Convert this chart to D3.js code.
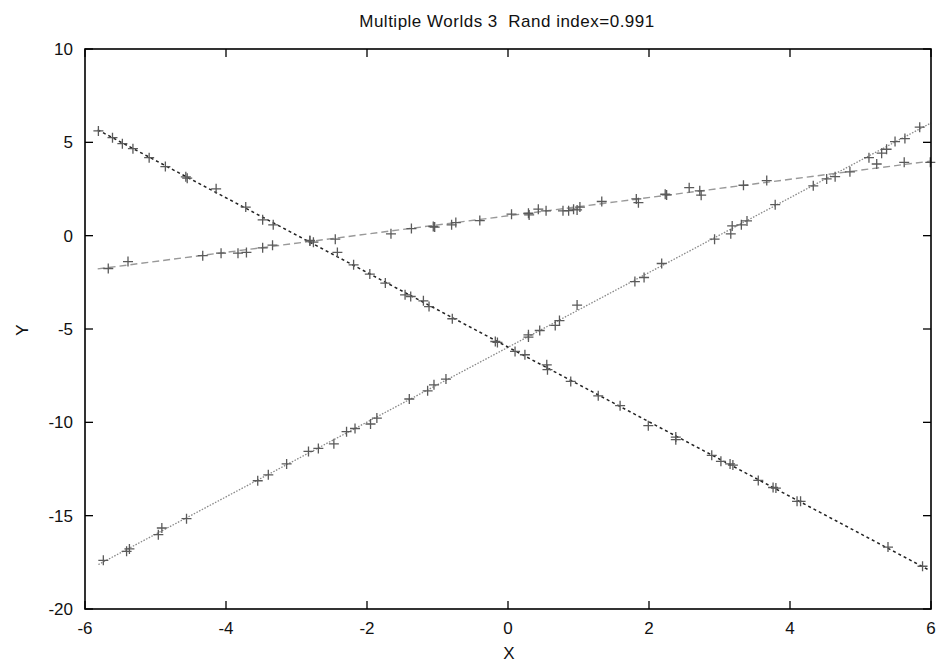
<!DOCTYPE html>
<html>
<head>
<meta charset="utf-8">
<script src="https://cdn.jsdelivr.net/npm/d3@7"></script>
<style>
  html, body { margin: 0; padding: 0; background: #fff; }
  svg text { font-family: "Liberation Sans", Arial, sans-serif; fill: #111; white-space: pre; }
</style>
</head>
<body>
<svg id="chart" width="940" height="664"></svg>
<script>
// Cluster A (falling line)
const worldA = [
  [-5.81,5.61],[-5.61,5.25],[-5.47,4.93],[-5.32,4.66],[-5.09,4.18],[-4.86,3.70],
  [-4.57,3.15],[-4.55,3.08],[-4.14,2.51],[-3.72,1.53],[-3.48,0.85],[-3.33,0.58],
  [-2.81,-0.26],[-2.76,-0.35],[-2.42,-0.90],[-2.19,-1.56],[-1.96,-2.06],[-1.74,-2.54],
  [-1.46,-3.17],[-1.38,-3.26],[-1.20,-3.49],[-1.12,-3.80],[-0.79,-4.45],[-0.18,-5.67],
  [-0.15,-5.72],[0.10,-6.20],[0.24,-6.38],[0.55,-6.92],[0.56,-7.18],[0.89,-7.81],
  [1.28,-8.58],[1.59,-9.11],[1.99,-10.18],[2.38,-10.79],[2.38,-10.93],[2.89,-11.77],
  [3.02,-12.09],[3.15,-12.23],[3.19,-12.29],[3.55,-13.11],[3.76,-13.49],[3.80,-13.52],
  [4.10,-14.23],[4.15,-14.23],[5.39,-16.68],[5.88,-17.71]
];
// Cluster B (rising steep line)
const worldB = [
  [-5.74,-17.39],[-5.41,-16.91],[-5.37,-16.78],[-4.96,-16.02],[-4.91,-15.66],[-4.56,-15.16],
  [-3.55,-13.13],[-3.40,-12.81],[-3.14,-12.23],[-2.83,-11.56],[-2.69,-11.40],[-2.47,-11.15],
  [-2.29,-10.50],[-2.17,-10.33],[-1.95,-10.09],[-1.86,-9.77],[-1.40,-8.75],[-1.14,-8.31],
  [-1.05,-7.99],[-0.88,-7.68],[0.29,-5.31],[0.29,-5.43],[0.45,-5.08],[0.67,-4.81],
  [0.73,-4.55],[0.98,-3.72],[1.80,-2.46],[1.93,-2.24],[2.18,-1.49],[2.93,-0.19],
  [3.16,0.10],[3.18,0.52],[3.31,0.58],[3.39,0.79],[3.79,1.66],[4.33,2.67],
  [4.52,3.04],[4.64,3.16],[5.12,4.18],[5.30,4.42],[5.37,4.63],[5.49,5.04],
  [5.63,5.20],[5.84,5.81]
];
// Cluster C (shallow line)
const worldC = [
  [-5.67,-1.76],[-5.39,-1.39],[-4.33,-1.07],[-4.07,-0.94],[-3.83,-0.94],[-3.71,-0.90],
  [-3.48,-0.65],[-3.34,-0.51],[-2.81,-0.28],[-2.45,-0.19],[-1.66,0.10],[-1.37,0.38],
  [-1.06,0.49],[-1.04,0.46],[-0.80,0.58],[-0.74,0.70],[-0.40,0.81],[0.05,1.15],
  [0.29,1.20],[0.30,1.11],[0.43,1.42],[0.54,1.33],[0.78,1.33],[0.86,1.34],
  [0.93,1.42],[0.98,1.38],[1.02,1.53],[1.33,1.83],[1.82,1.97],[1.85,1.77],
  [2.23,2.22],[2.25,2.18],[2.57,2.57],[2.72,2.40],[2.74,2.17],[3.34,2.70],
  [3.67,2.95],[4.85,3.42],[5.23,3.84],[5.62,3.93],[5.99,3.93]
];
// Fitted model lines: [slope, intercept, xStart, xEnd]
const modelA = [-2.00, -5.97, -5.82, 5.96];
const modelB = [2.003, -5.98, -5.81, 6.0];
const modelC = [0.489, 1.064, -5.82, 6.0];

const xTicks = [-6, -4, -2, 0, 2, 4, 6];
const yTicks = [-20, -15, -10, -5, 0, 5, 10];
const titleText = "Multiple Worlds 3  Rand index=0.991";

const svg = d3.select("#chart");
const plotL = 85, plotR = 931, plotT = 49, plotB = 609;

const x = d3.scaleLinear().domain([-6, 6]).range([plotL, plotR]);
const y = d3.scaleLinear().domain([-20, 10]).range([plotB, plotT]);

const tickLen = 8;

// Inward ticks on all four sides
const g = svg.append("g");
xTicks.forEach(t => {
  g.append("line").attr("x1", x(t)).attr("x2", x(t)).attr("y1", plotB).attr("y2", plotB - tickLen)
    .attr("stroke", "#000").attr("stroke-width", 1.3);
  g.append("line").attr("x1", x(t)).attr("x2", x(t)).attr("y1", plotT).attr("y2", plotT + tickLen)
    .attr("stroke", "#000").attr("stroke-width", 1.3);
  g.append("text").attr("x", x(t)).attr("y", plotB + 25).attr("text-anchor", "middle")
    .attr("font-size", 17).text(t);
});
yTicks.forEach(t => {
  g.append("line").attr("x1", plotL).attr("x2", plotL + tickLen).attr("y1", y(t)).attr("y2", y(t))
    .attr("stroke", "#000").attr("stroke-width", 1.3);
  g.append("line").attr("x1", plotR).attr("x2", plotR - tickLen).attr("y1", y(t)).attr("y2", y(t))
    .attr("stroke", "#000").attr("stroke-width", 1.3);
  g.append("text").attr("x", plotL - 12).attr("y", y(t) + 6).attr("text-anchor", "end")
    .attr("font-size", 17).text(t);
});

// Model lines
const line = d3.line().x(d => x(d[0])).y(d => y(d[1]));
function modelPts(m) {
  return [[m[2], m[0] * m[2] + m[1]], [m[3], m[0] * m[3] + m[1]]];
}
svg.append("path").datum(modelPts(modelC)).attr("d", line)
  .attr("fill", "none").attr("stroke", "#999").attr("stroke-width", 1.4).attr("stroke-dasharray", "7,4");
svg.append("path").datum(modelPts(modelB)).attr("d", line)
  .attr("fill", "none").attr("stroke", "#888").attr("stroke-width", 1.3).attr("stroke-dasharray", "1.5,1.5");
svg.append("path").datum(modelPts(modelA)).attr("d", line)
  .attr("fill", "none").attr("stroke", "#222").attr("stroke-width", 1.5).attr("stroke-dasharray", "3,3");

// Plus markers
const s = 5;
const allPts = worldA.concat(worldB, worldC);
svg.append("g").selectAll("path").data(allPts).join("path")
  .attr("d", d => {
    const cx = x(d[0]), cy = y(d[1]);
    return `M${cx - s},${cy}H${cx + s}M${cx},${cy - s}V${cy + s}`;
  })
  .attr("stroke", "#5a5a5a").attr("stroke-width", 1.3).attr("fill", "none");

// Frame
svg.append("rect").attr("x", plotL).attr("y", plotT).attr("width", plotR - plotL).attr("height", plotB - plotT)
  .attr("fill", "none").attr("stroke", "#000").attr("stroke-width", 1.6);

// Titles
svg.append("text").attr("x", 507).attr("y", 27).attr("text-anchor", "middle").attr("font-size", 17)
  .attr("letter-spacing", 0.5).text(titleText);
svg.append("text").attr("x", 509).attr("y", 659).attr("text-anchor", "middle").attr("font-size", 17).text("X");
svg.append("text").attr("transform", "translate(28,330) rotate(-90)").attr("text-anchor", "middle")
  .attr("font-size", 17).text("Y");
</script>
</body>
</html>
